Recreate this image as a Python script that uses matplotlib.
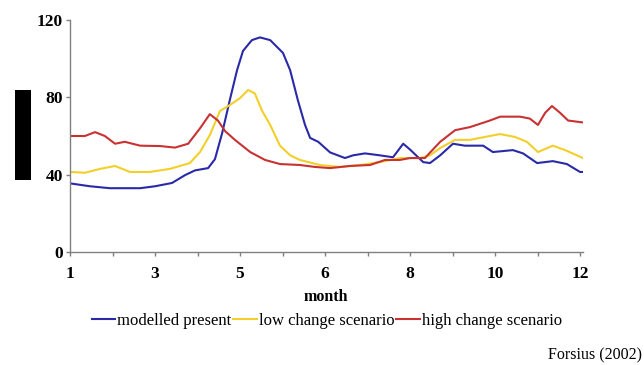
import matplotlib
matplotlib.use("Agg")
import matplotlib.pyplot as plt
from matplotlib.patches import Rectangle

# axis position (tick index 0..12) and values
tick_labels = ["1", "", "3", "", "5", "", "6", "", "8", "", "10", "", "12"]
y_ticks = [0, 40, 80, 120]

blue_x = [0, 0.47, 0.94, 1.3, 1.65, 2.0, 2.4, 2.71, 2.94, 3.25, 3.41, 3.58, 3.76, 3.93, 4.07,
          4.28, 4.47, 4.71, 5.01, 5.18, 5.36, 5.53, 5.65, 5.84, 6.12, 6.47, 6.66, 6.94, 7.29,
          7.6, 7.84, 8.0, 8.19, 8.31, 8.47, 8.71, 9.01, 9.29, 9.72, 9.95, 10.42, 10.66, 10.99,
          11.36, 11.69, 12.0, 12.07]
blue_y = [35.5, 34, 33, 33, 33, 34, 35.7, 39.8, 42.2, 43.4, 48, 61.5, 78.6, 94, 104,
          109.6, 111, 109.6, 103, 94, 78.6, 65.7, 59, 57, 51.5, 48.6, 50, 51, 50,
          49, 56, 53, 49, 46.5, 46, 50, 56, 55, 55, 51.7, 52.7, 51, 46,
          47, 45.5, 41.4, 41.4]

yellow_x = [0, 0.35, 0.71, 1.06, 1.41, 1.88, 2.35, 2.82, 3.06, 3.29, 3.53, 3.76, 4.0, 4.19,
            4.35, 4.52, 4.71, 4.94, 5.18, 5.41, 5.88, 6.35, 6.82, 7.29, 7.76, 8.24, 8.47,
            8.71, 9.06, 9.41, 9.88, 10.12, 10.47, 10.75, 11.01, 11.36, 11.65, 12.07]
yellow_y = [41.4, 41, 43, 44.5, 41.4, 41.4, 43, 46, 51.7, 60.5, 73, 76, 79.6, 83.8,
            82, 73, 65.7, 55, 50, 47.6, 45, 44, 45, 46.5, 48.6, 48.6, 50,
            53.8, 58, 58, 60, 61, 59.5, 57, 51.7, 55, 52.7, 48.6]

red_x = [0, 0.35, 0.59, 0.82, 1.06, 1.29, 1.65, 2.12, 2.47, 2.78, 3.06, 3.29, 3.48, 3.65,
         3.88, 4.24, 4.59, 4.94, 5.41, 5.76, 6.12, 6.59, 7.06, 7.41, 7.76, 8.0, 8.35, 8.71,
         9.06, 9.41, 9.88, 10.12, 10.59, 10.82, 11.01, 11.18, 11.34, 11.53, 11.72, 12.07]
red_y = [60, 60, 62, 60, 56, 57, 55, 54.8, 54, 56, 64, 71.3, 68, 62.5,
         58, 51.7, 47.6, 45.5, 45, 44, 43.4, 44.5, 45, 47.6, 47.6, 48.6, 48.6, 57,
         63, 64.6, 68, 70, 70, 69, 65.7, 72, 75.5, 72, 68, 67]

series_names = ["modelled present", "low change scenario", "high change scenario"]
colors = ["#2a2aa8", "#f2cf2a", "#c83232"]

plt.rcParams['font.family'] = ['Liberation Serif', 'DejaVu Serif']

fig = plt.figure(figsize=(6.44, 3.65), dpi=100)
ax = fig.add_axes([70/644, 1-252/365, (583-70)/644, (252-20)/365])

for xs, ys, c, n in zip([blue_x, yellow_x, red_x], [blue_y, yellow_y, red_y], colors, series_names):
    ax.plot(xs, ys, color=c, lw=1.5, label=n)

ax.set_xlim(0, 12.07)
ax.set_ylim(0, 120)
ax.set_xticks(range(13))
ax.set_xticklabels(tick_labels)
ax.set_yticks(y_ticks)
for s in ["top", "right"]:
    ax.spines[s].set_visible(False)
for s in ["left", "bottom"]:
    ax.spines[s].set_color("#808080")
    ax.spines[s].set_linewidth(1.0)
ax.tick_params(axis="both", colors="#808080", length=3, width=1.0, direction="out",
               labelcolor="black", labelsize=12.5)
ax.tick_params(axis="x", pad=7)
ax.tick_params(axis="y", pad=2)
for lab in ax.get_xticklabels() + ax.get_yticklabels():
    lab.set_fontweight("bold")

fig.text(326/644, 1-297/365, "month", ha="center", va="center", fontsize=11.5, fontweight="bold")

leg = ax.legend(loc="center", bbox_to_anchor=(327/644, 1-321/365), bbox_transform=fig.transFigure,
                ncol=3, frameon=False, fontsize=12, handlelength=1.4, handletextpad=0.15,
                columnspacing=0.1, borderpad=0)

fig.text(642/644, 1-355/365, "Forsius (2002)", ha="right", va="center", fontsize=11.5)

fig.patches.append(Rectangle((15/644, 1-180/365), 16/644, 90/365, transform=fig.transFigure,
                             facecolor="black", edgecolor="none"))

fig.savefig("out.png", dpi=100)
